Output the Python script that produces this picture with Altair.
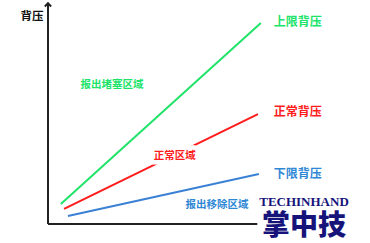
import altair as alt
import pandas as pd

# Line series (x: 0-100 along the horizontal axis, y: 0-100 along the vertical axis)
series = ["上限背压", "正常背压", "下限背压"]
x_start = [4.0, 5.0, 6.2]
y_start = [9.0, 6.8, 3.6]
x_end = [66.1, 65.2, 65.5]
y_end = [90.5, 49.5, 22.5]
line_colors = ["#20e36a", "#ff1c1c", "#3a80d4"]

# Text labels
end_labels = ["上限背压", "正常背压", "下限背压"]
end_x = [77.6, 77.6, 77.6]
end_y = [91.0, 50.5, 22.5]
zone_labels = ["报出堵塞区域", "正常区域", "报出移除区域"]
zone_x = [19.9, 39.4, 52.5]
zone_y = [62.6, 30.6, 8.6]
text_colors = ["#20e36a", "#ff1c1c", "#2f88d6"]

axis_title = "背压"
logo_en = "TECHINHAND"
logo_zh = "掌中技"

xs = alt.Scale(domain=[-14.9, 100], nice=False, zero=False)
ys = alt.Scale(domain=[-8.56, 100.9], nice=False, zero=False)


def X(f="x"):
    return alt.X(f + ":Q", scale=xs, axis=None)


def Y(f="y"):
    return alt.Y(f + ":Q", scale=ys, axis=None)


layers = []

# axes
yaxis_df = pd.DataFrame({"x": [0, 0], "y": [0, 99.5]})
xaxis_df = pd.DataFrame({"x": [0, 65], "y": [0, 0]})
for d in (yaxis_df, xaxis_df):
    layers.append(alt.Chart(d).mark_line(color="#222222", strokeWidth=2).encode(x=X(), y=Y()))

arrow_df = pd.DataFrame({"x": [0], "y": [99.0]})
layers.append(alt.Chart(arrow_df).mark_point(
    shape="M-1,0.7L0,-0.3L1,0.7", size=40, filled=False, color="#222222",
    strokeWidth=2, opacity=1
).encode(x=X(), y=Y()))

# lines
for i, s in enumerate(series):
    d = pd.DataFrame({"x": [x_start[i], x_end[i]], "y": [y_start[i], y_end[i]]})
    layers.append(alt.Chart(d).mark_line(strokeWidth=2, color=line_colors[i]).encode(x=X(), y=Y()))

# labels
for i in range(3):
    d = pd.DataFrame({"t": [end_labels[i]], "x": [end_x[i]], "y": [end_y[i]]})
    layers.append(alt.Chart(d).mark_text(
        font="Noto Sans CJK SC", fontWeight="bold", fontSize=12, color=text_colors[i]
    ).encode(x=X(), y=Y(), text="t:N"))
    d = pd.DataFrame({"t": [zone_labels[i]], "x": [zone_x[i]], "y": [zone_y[i]]})
    # white halo so the label hides the line running underneath it
    layers.append(alt.Chart(d).mark_text(
        font="Noto Sans CJK SC", fontWeight="bold", fontSize=10.5, color="white",
        stroke="white", strokeWidth=9, strokeJoin="round"
    ).encode(x=X(), y=Y(), text="t:N"))
    layers.append(alt.Chart(d).mark_text(
        font="Noto Sans CJK SC", fontWeight="bold", fontSize=10.5, color=text_colors[i]
    ).encode(x=X(), y=Y(), text="t:N"))

title_df = pd.DataFrame({"t": [axis_title], "x": [-5.0], "y": [93.2]})
layers.append(alt.Chart(title_df).mark_text(
    font="Noto Sans CJK SC", fontWeight="bold", fontSize=11.5, color="#111111"
).encode(x=X(), y=Y(), text="t:N"))

logo1_df = pd.DataFrame({"t": [logo_en], "x": [79.5], "y": [9.9]})
logo2_df = pd.DataFrame({"t": [logo_zh], "x": [79.5], "y": [-1.2]})
layers.append(alt.Chart(logo1_df).mark_text(
    font="Liberation Serif", fontWeight="bold", color="#16147a", fontSize=13
).encode(x=X(), y=Y(), text="t:N"))
layers.append(alt.Chart(logo2_df).mark_text(
    font="Noto Sans CJK SC", fontWeight=900, color="#16147a", fontSize=28
).encode(x=X(), y=Y(), text="t:N"))

chart = alt.layer(*layers).properties(
    width=370, height=243,
    padding=0,
    autosize=alt.AutoSizeParams(type="none"),
    background="white",
).configure_view(strokeWidth=0)

chart.save("out.html", embed_options={"renderer": "svg", "actions": False})
